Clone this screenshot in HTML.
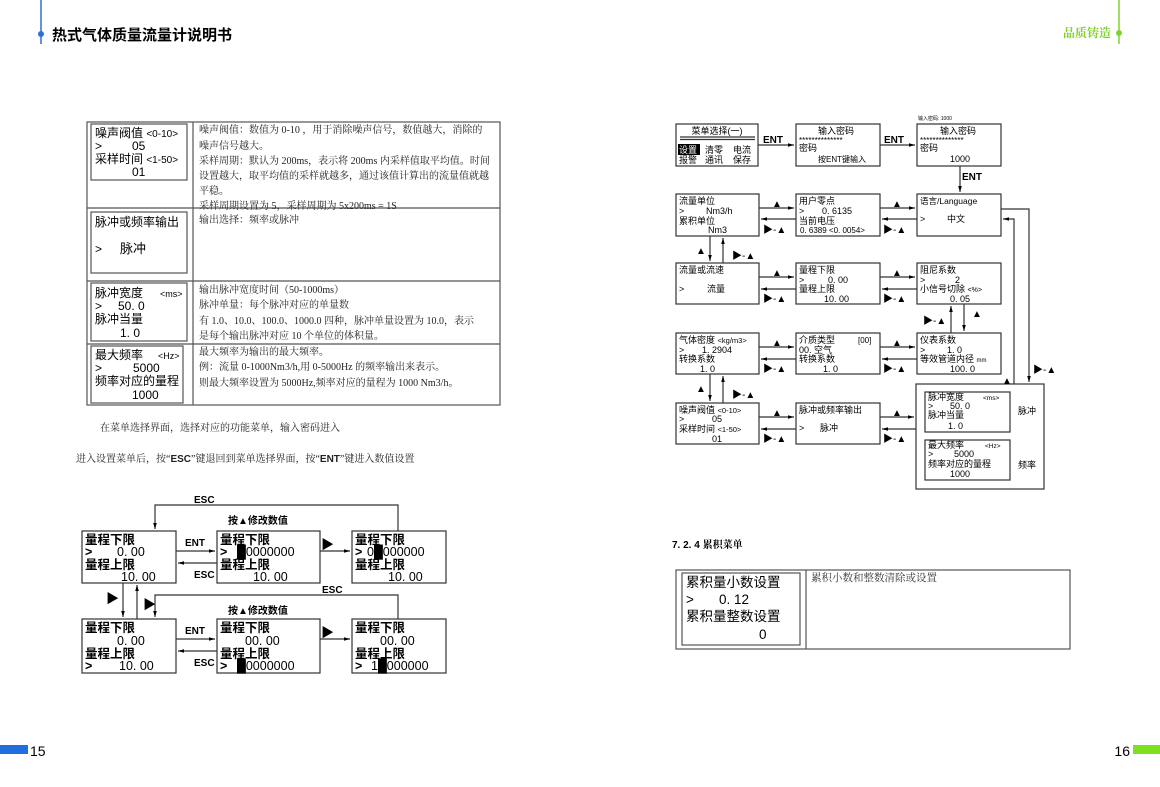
<!DOCTYPE html>
<html><head><meta charset="utf-8">
<style>
html,body{margin:0;padding:0;background:#fff;}
svg{display:block;font-family:"Liberation Sans","Noto Sans CJK SC",sans-serif;}
.s{font-family:"Liberation Serif","Noto Serif CJK SC",serif;}
</style></head><body>
<svg width="1160" height="787" viewBox="0 0 1160 787" xmlns="http://www.w3.org/2000/svg">
<defs>
<marker id="a" viewBox="0 0 10 10" refX="10" refY="5" markerWidth="7" markerHeight="5" orient="auto"><path d="M0,2 L10,5 L0,8 z" fill="#000"/></marker>
</defs>
<rect width="1160" height="787" fill="#fff"/>
<!-- header -->
<line x1="41" y1="0" x2="41" y2="44" stroke="#2f6fd6" stroke-width="1.5"/>
<circle cx="41" cy="34" r="3" fill="#2f6fd6"/>
<text x="52" y="40" font-size="15" font-weight="bold" fill="#000">热式气体质量流量计说明书</text>
<line x1="1119" y1="0" x2="1119" y2="44" stroke="#7fd32a" stroke-width="1.5"/>
<circle cx="1119" cy="33" r="3" fill="#7fd32a"/>
<text x="1111" y="37" font-size="12" font-weight="bold" fill="#7fd32a" text-anchor="end" class="s">品质铸造</text>

<!-- table 1 -->
<g stroke="#555" fill="none" stroke-width="1.2">
<rect x="87" y="122" width="413" height="283"/>
<line x1="193" y1="122" x2="193" y2="405"/>
<line x1="87" y1="208" x2="500" y2="208"/>
<line x1="87" y1="281" x2="500" y2="281"/>
<line x1="87" y1="344" x2="500" y2="344"/>
<rect x="91" y="124" width="96" height="56"/>
<rect x="91" y="212" width="96" height="61"/>
<rect x="91" y="283" width="96" height="58"/>
<rect x="91" y="346" width="92" height="57"/>
</g>
<g font-size="12" fill="#000">
<text x="95" y="137">噪声阀值 <tspan font-size="10">&lt;0-10&gt;</tspan></text>
<text x="95" y="150">&gt;</text><text x="132" y="150">05</text>
<text x="95" y="163">采样时间 <tspan font-size="10">&lt;1-50&gt;</tspan></text>
<text x="132" y="176">01</text>
<text x="95" y="226">脉冲或频率输出</text>
<text x="95" y="253">&gt;</text><text x="120" y="253" font-size="13">脉冲</text>
<text x="95" y="297">脉冲宽度</text><text x="160" y="297" font-size="9">&lt;ms&gt;</text>
<text x="95" y="310">&gt;</text><text x="118" y="310">50. 0</text>
<text x="95" y="323">脉冲当量</text>
<text x="120" y="337">1. 0</text>
<text x="95" y="359">最大频率</text><text x="158" y="359" font-size="9">&lt;Hz&gt;</text>
<text x="95" y="372">&gt;</text><text x="133" y="372">5000</text>
<text x="95" y="385">频率对应的量程</text>
<text x="132" y="399">1000</text>
</g>
<g font-size="10" fill="#222" class="s">
<text x="199" y="133">噪声阀值：数值为 0-10 ，用于消除噪声信号，数值越大，消除的</text>
<text x="199" y="149">噪声信号越大。</text>
<text x="199" y="164">采样周期：默认为 200ms，表示将 200ms 内采样值取平均值。时间</text>
<text x="199" y="179">设置越大，取平均值的采样就越多，通过该值计算出的流量值就越</text>
<text x="199" y="194">平稳。</text>
<text x="199" y="209">采样周期设置为 5，采样周期为 5x200ms = 1S</text>
<text x="199" y="223">输出选择：频率或脉冲</text>
<text x="199" y="293">输出脉冲宽度时间（50-1000ms）</text>
<text x="199" y="308">脉冲单量：每个脉冲对应的单量数</text>
<text x="199" y="324">有 1.0、10.0、100.0、1000.0 四种，脉冲单量设置为 10.0，表示</text>
<text x="199" y="339">是每个输出脉冲对应 10 个单位的体积量。</text>
<text x="199" y="355">最大频率为输出的最大频率。</text>
<text x="199" y="370">例：流量 0-1000Nm3/h,用 0-5000Hz 的频率输出来表示。</text>
<text x="199" y="386">则最大频率设置为 5000Hz,频率对应的量程为 1000 Nm3/h。</text>
<text x="100" y="431">在菜单选择界面，选择对应的功能菜单，输入密码进入</text>
<text x="76" y="462">进入设置菜单后，按“<tspan font-family="Liberation Sans" font-weight="bold">ESC</tspan>”键退回到菜单选择界面，按“<tspan font-family="Liberation Sans" font-weight="bold">ENT</tspan>”键进入数值设置</text>
</g>

<!-- bottom-left diagram -->
<g stroke="#333" fill="none" stroke-width="1.2">
<rect x="82" y="531" width="94" height="52"/>
<rect x="217" y="531" width="103" height="52"/>
<rect x="352" y="531" width="94" height="52"/>
<rect x="82" y="619" width="94" height="54"/>
<rect x="217" y="619" width="103" height="54"/>
<rect x="352" y="619" width="94" height="54"/>
<polyline points="398,531 398,505 155,505 155,529" marker-end="url(#a)"/>
<polyline points="398,619 398,595 155,595 155,617" marker-end="url(#a)"/>
<line x1="176" y1="551" x2="215" y2="551" marker-end="url(#a)"/>
<line x1="217" y1="563" x2="178" y2="563" marker-end="url(#a)"/>
<line x1="320" y1="551" x2="350" y2="551" marker-end="url(#a)"/>
<line x1="176" y1="639" x2="215" y2="639" marker-end="url(#a)"/>
<line x1="217" y1="651" x2="178" y2="651" marker-end="url(#a)"/>
<line x1="320" y1="639" x2="350" y2="639" marker-end="url(#a)"/>
<line x1="123" y1="583" x2="123" y2="617" marker-end="url(#a)"/>
<line x1="137" y1="619" x2="137" y2="585" marker-end="url(#a)"/>
</g>
<g font-size="12.5" fill="#000" font-weight="bold">
<text x="85" y="544">量程下限</text><text x="85" y="556">&gt;</text><text x="117" y="556" font-weight="normal">0. 00</text>
<text x="85" y="569">量程上限</text><text x="121" y="581" font-weight="normal">10. 00</text>
<text x="220" y="544">量程下限</text><text x="220" y="556">&gt;</text><text x="237" y="556" font-weight="normal">█0000000</text>
<text x="220" y="569">量程上限</text><text x="253" y="581" font-weight="normal">10. 00</text>
<text x="355" y="544">量程下限</text><text x="355" y="556">&gt;</text><text x="367" y="556" font-weight="normal">0█000000</text>
<text x="355" y="569">量程上限</text><text x="388" y="581" font-weight="normal">10. 00</text>
<text x="85" y="632">量程下限</text><text x="117" y="645" font-weight="normal">0. 00</text>
<text x="85" y="658">量程上限</text><text x="85" y="670">&gt;</text><text x="119" y="670" font-weight="normal">10. 00</text>
<text x="220" y="632">量程下限</text><text x="245" y="645" font-weight="normal">00. 00</text>
<text x="220" y="658">量程上限</text><text x="220" y="670">&gt;</text><text x="237" y="670" font-weight="normal">█0000000</text>
<text x="355" y="632">量程下限</text><text x="380" y="645" font-weight="normal">00. 00</text>
<text x="355" y="658">量程上限</text><text x="355" y="670">&gt;</text><text x="371" y="670" font-weight="normal">1█000000</text>
</g>
<g font-size="10" font-weight="bold" fill="#000">
<text x="194" y="503">ESC</text><text x="322" y="593">ESC</text>
<text x="185" y="546">ENT</text><text x="194" y="578">ESC</text>
<text x="185" y="634">ENT</text><text x="194" y="666">ESC</text>
<text x="228" y="524">按▲修改数值</text><text x="228" y="614">按▲修改数值</text>
<text x="321" y="549" font-size="13">▶</text><text x="321" y="637" font-size="13">▶</text>
<text x="106" y="603" font-size="13">▶</text><text x="143" y="609" font-size="13">▶</text>
</g>

<!-- right diagram -->
<g stroke="#333" fill="none" stroke-width="1.2">
<rect x="676" y="124" width="82" height="42"/>
<rect x="796" y="124" width="84" height="42"/>
<rect x="917" y="124" width="84" height="42"/>
<rect x="676" y="194" width="83" height="42"/>
<rect x="796" y="194" width="84" height="42"/>
<rect x="917" y="194" width="84" height="42"/>
<rect x="676" y="263" width="83" height="41"/>
<rect x="796" y="263" width="84" height="41"/>
<rect x="917" y="263" width="84" height="41"/>
<rect x="676" y="333" width="83" height="41"/>
<rect x="796" y="333" width="84" height="41"/>
<rect x="917" y="333" width="84" height="41"/>
<rect x="676" y="403" width="83" height="41"/>
<rect x="796" y="403" width="84" height="41"/>
<rect x="916" y="384" width="128" height="105"/>
<rect x="925" y="392" width="85" height="40"/>
<rect x="925" y="440" width="85" height="40"/>
<line x1="680" y1="137" x2="755" y2="137"/><line x1="680" y1="139.5" x2="755" y2="139.5"/>
<line x1="758" y1="145" x2="794" y2="145" marker-end="url(#a)"/>
<line x1="880" y1="145" x2="915" y2="145" marker-end="url(#a)"/>
<line x1="960" y1="166" x2="960" y2="192" marker-end="url(#a)"/>
</g>
<g stroke="#333" fill="none" stroke-width="1.2">
<line x1="759" y1="208" x2="794" y2="208" marker-end="url(#a)"/><line x1="796" y1="219" x2="761" y2="219" marker-end="url(#a)"/>
<line x1="880" y1="208" x2="915" y2="208" marker-end="url(#a)"/><line x1="917" y1="219" x2="882" y2="219" marker-end="url(#a)"/>
<line x1="759" y1="277" x2="794" y2="277" marker-end="url(#a)"/><line x1="796" y1="289" x2="761" y2="289" marker-end="url(#a)"/>
<line x1="880" y1="277" x2="915" y2="277" marker-end="url(#a)"/><line x1="917" y1="289" x2="882" y2="289" marker-end="url(#a)"/>
<line x1="759" y1="347" x2="794" y2="347" marker-end="url(#a)"/><line x1="796" y1="359" x2="761" y2="359" marker-end="url(#a)"/>
<line x1="880" y1="347" x2="915" y2="347" marker-end="url(#a)"/><line x1="917" y1="359" x2="882" y2="359" marker-end="url(#a)"/>
<line x1="759" y1="417" x2="794" y2="417" marker-end="url(#a)"/><line x1="796" y1="429" x2="761" y2="429" marker-end="url(#a)"/>
<line x1="880" y1="417" x2="914" y2="417" marker-end="url(#a)"/><line x1="916" y1="429" x2="882" y2="429" marker-end="url(#a)"/>
<line x1="710" y1="236" x2="710" y2="261" marker-end="url(#a)"/><line x1="723" y1="263" x2="723" y2="238" marker-end="url(#a)"/>
<line x1="710" y1="374" x2="710" y2="401" marker-end="url(#a)"/><line x1="723" y1="403" x2="723" y2="376" marker-end="url(#a)"/>
<line x1="964" y1="304" x2="964" y2="331" marker-end="url(#a)"/><line x1="951" y1="333" x2="951" y2="306" marker-end="url(#a)"/>
<polyline points="1001,209 1029,209 1029,382" marker-end="url(#a)"/>
<polyline points="1014,384 1014,219 1003,219" marker-end="url(#a)"/>
</g>
<g font-size="9" fill="#000">
<text x="717" y="134" text-anchor="middle">菜单选择(一)</text>
<rect x="678" y="144" width="22" height="11" fill="#000"/>
<text x="679" y="153" fill="#fff">设置</text><text x="705" y="153">清零</text><text x="733" y="153">电流</text>
<text x="679" y="163">报警</text><text x="705" y="163">通讯</text><text x="733" y="163">保存</text>
<text x="818" y="134">输入密码</text>
<text x="799" y="143" font-size="8">**************</text>
<text x="799" y="151">密码</text><text x="818" y="162" font-size="8">按ENT键输入</text>
<text x="918" y="120" font-size="5">输入密码: 1000</text>
<text x="940" y="134">输入密码</text>
<text x="920" y="143" font-size="8">**************</text>
<text x="920" y="151">密码</text><text x="950" y="162">1000</text>
<text x="763" y="143" font-weight="bold" font-size="10">ENT</text>
<text x="884" y="143" font-weight="bold" font-size="10">ENT</text>
<text x="962" y="180" font-weight="bold" font-size="10">ENT</text>

<text x="679" y="204">流量单位</text><text x="679" y="214">&gt;</text><text x="706" y="214">Nm3/h</text>
<text x="679" y="224">累积单位</text><text x="708" y="233">Nm3</text>
<text x="799" y="204">用户零点</text><text x="799" y="214">&gt;</text><text x="822" y="214">0. 6135</text>
<text x="799" y="224">当前电压</text><text x="800" y="233" font-size="8">0. 6389 &lt;0. 0054&gt;</text>
<text x="920" y="204" font-size="8.5">语言/Language</text><text x="920" y="222">&gt;</text><text x="947" y="222">中文</text>

<text x="679" y="273">流量或流速</text><text x="679" y="292">&gt;</text><text x="707" y="292">流量</text>
<text x="799" y="273">量程下限</text><text x="799" y="283">&gt;</text><text x="828" y="283">0. 00</text>
<text x="799" y="292">量程上限</text><text x="824" y="302">10. 00</text>
<text x="920" y="273">阻尼系数</text><text x="920" y="283">&gt;</text><text x="955" y="283">2</text>
<text x="920" y="292">小信号切除 <tspan font-size="7">&lt;%&gt;</tspan></text><text x="950" y="302">0. 05</text>

<text x="679" y="343">气体密度 <tspan font-size="7.5">&lt;kg/m3&gt;</tspan></text><text x="679" y="353">&gt;</text><text x="702" y="353">1. 2904</text>
<text x="679" y="362">转换系数</text><text x="700" y="372">1. 0</text>
<text x="799" y="343">介质类型</text><text x="858" y="343" font-size="8">[00]</text><text x="799" y="353">00. 空气</text>
<text x="799" y="362">转换系数</text><text x="823" y="372">1. 0</text>
<text x="920" y="343">仪表系数</text><text x="920" y="353">&gt;</text><text x="947" y="353">1. 0</text>
<text x="920" y="362">等效管道内径 <tspan font-size="6">mm</tspan></text><text x="950" y="372">100. 0</text>

<text x="679" y="413">噪声阀值 <tspan font-size="7.5">&lt;0-10&gt;</tspan></text><text x="679" y="422">&gt;</text><text x="712" y="422">05</text>
<text x="679" y="432">采样时间 <tspan font-size="7.5">&lt;1-50&gt;</tspan></text><text x="712" y="442">01</text>
<text x="799" y="413">脉冲或频率输出</text><text x="799" y="431">&gt;</text><text x="820" y="431">脉冲</text>

<text x="928" y="400">脉冲宽度</text><text x="983" y="400" font-size="6.5">&lt;ms&gt;</text>
<text x="928" y="409">&gt;</text><text x="950" y="409">50. 0</text><text x="928" y="418">脉冲当量</text><text x="948" y="429">1. 0</text>
<text x="1018" y="414">脉冲</text>
<text x="928" y="448">最大频率</text><text x="985" y="448" font-size="6.5">&lt;Hz&gt;</text>
<text x="928" y="457">&gt;</text><text x="954" y="457">5000</text><text x="928" y="467">频率对应的量程</text><text x="950" y="477">1000</text>
<text x="1018" y="468">频率</text>
</g>
<g font-size="10" fill="#000">
<text x="772" y="207">▲</text><text x="763" y="233">▶-▲</text>
<text x="892" y="207">▲</text><text x="883" y="233">▶-▲</text>
<text x="772" y="276">▲</text><text x="763" y="302">▶-▲</text>
<text x="892" y="276">▲</text><text x="883" y="302">▶-▲</text>
<text x="772" y="346">▲</text><text x="763" y="372">▶-▲</text>
<text x="892" y="346">▲</text><text x="883" y="372">▶-▲</text>
<text x="772" y="416">▲</text><text x="763" y="442">▶-▲</text>
<text x="892" y="416">▲</text><text x="883" y="442">▶-▲</text>
<text x="696" y="254">▲</text><text x="732" y="259">▶-▲</text>
<text x="696" y="392">▲</text><text x="732" y="398">▶-▲</text>
<text x="972" y="317">▲</text><text x="923" y="324">▶-▲</text>
<text x="1002" y="384">▲</text><text x="1033" y="373">▶-▲</text>
</g>

<!-- 7.2.4 -->
<text x="672" y="548" font-size="10" font-weight="bold" fill="#000">7. 2. 4 <tspan class="s">累积菜单</tspan></text>
<g stroke="#555" fill="none" stroke-width="1.2">
<rect x="676" y="570" width="394" height="79"/>
<line x1="806" y1="570" x2="806" y2="649"/>
<rect x="682" y="573" width="118" height="72"/>
</g>
<g font-size="13.5" fill="#000">
<text x="686" y="587">累积量小数设置</text>
<text x="686" y="604">&gt;</text><text x="719" y="604">0. 12</text>
<text x="686" y="621">累积量整数设置</text>
<text x="759" y="639">0</text>
</g>
<text x="811" y="581" font-size="10.5" fill="#333" class="s">累积小数和整数清除或设置</text>

<!-- footer -->
<rect x="0" y="745" width="28" height="9" fill="#1f6fe0"/>
<text x="30" y="756" font-size="14" fill="#000">15</text>
<text x="1130" y="756" font-size="14" fill="#000" text-anchor="end">16</text>
<rect x="1133" y="745" width="27" height="9" fill="#7fe01f"/>
</svg>
</body></html>
